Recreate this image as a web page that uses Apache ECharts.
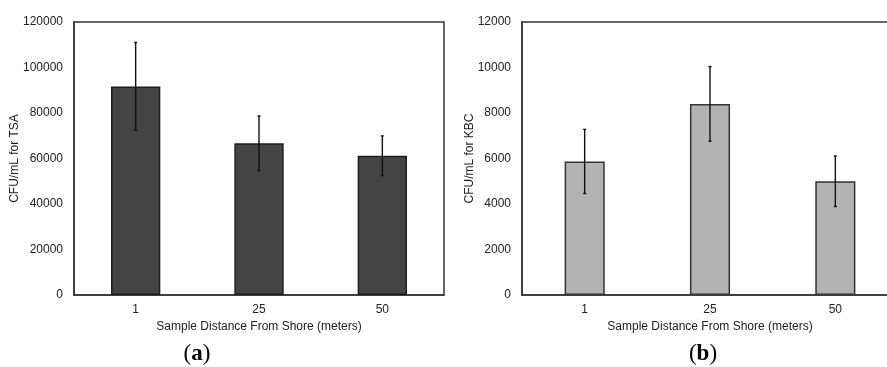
<!DOCTYPE html>
<html>
<head>
  <meta charset="utf-8">
  <title>CFU bars</title>
  <script src="https://cdn.jsdelivr.net/npm/echarts@6/dist/echarts.min.js"></script>
  <style>
    html, body { margin: 0; padding: 0; background: #fff; overflow: hidden; }
  </style>
</head>
<body>
<!-- a bit wider than the window: panel (b) runs off the right edge in the original -->
<div id="main" style="width: 905px;height:367px;"></div>
<script type="text/javascript">
  // data
  var categories = ['1', '25', '50'];
  var tsaMeans = [91700, 66700, 61200];
  var tsaErr = [19300, 12000, 8700];
  var kbcMeans = [5870, 8400, 5000];
  var kbcErr = [1410, 1640, 1110];
  var tsaTicks = [0, 120000, 20000];
  var kbcTicks = [0, 12000, 2000];

  var font = '"Liberation Sans", Arial, sans-serif';
  var txt = '#222';

  function errData(means, errs) {
    return means.map(function (m, i) { return [i, m - errs[i], m + errs[i]]; });
  }

  function errRender(params, api) {
    var x = api.value(0);
    var lo = api.coord([x, api.value(1)]);
    var hi = api.coord([x, api.value(2)]);
    var cap = 1.5;
    var st = { stroke: '#111', lineWidth: 1.4 };
    return {
      type: 'group',
      children: [
        { type: 'line', shape: { x1: hi[0], y1: hi[1], x2: lo[0], y2: lo[1] }, style: st },
        { type: 'line', shape: { x1: hi[0] - cap, y1: hi[1], x2: hi[0] + cap, y2: hi[1] }, style: st },
        { type: 'line', shape: { x1: lo[0] - cap, y1: lo[1], x2: lo[0] + cap, y2: lo[1] }, style: st }
      ]
    };
  }

  function xAx(idx) {
    return {
      type: 'category', gridIndex: idx, data: categories,
      axisLine: { lineStyle: { color: '#333', width: 1.5 } },
      axisTick: { show: false },
      axisLabel: { color: txt, fontSize: 12, fontFamily: font, margin: 9 },
      name: 'Sample Distance From Shore (meters)',
      nameLocation: 'middle', nameGap: 24,
      nameTextStyle: { color: txt, fontSize: 12, fontFamily: font }
    };
  }

  function yAx(idx, ticks, name, gap) {
    return {
      type: 'value', gridIndex: idx, min: ticks[0], max: ticks[1], interval: ticks[2],
      axisLine: { show: true, lineStyle: { color: '#333', width: 1.5 } },
      axisTick: { show: false },
      splitLine: { show: false },
      axisLabel: {
        color: txt, fontSize: 12, fontFamily: font, margin: 11,
        formatter: function (v) { return String(v); }
      },
      name: name, nameLocation: 'middle', nameGap: gap, nameRotate: 90,
      nameMoveOverlap: false,
      nameTextStyle: { color: txt, fontSize: 12, fontFamily: font }
    };
  }

  function panelTag(x, letter) {
    var serif = '"Liberation Serif", "Times New Roman", serif';
    return {
      type: 'text', x: x, y: 354,
      style: {
        text: '{p|(}{b|' + letter + '}{p|)}', align: 'center', verticalAlign: 'middle',
        rich: {
          p: { fontFamily: serif, fontSize: 23, fill: '#000' },
          b: { fontFamily: serif, fontSize: 23, fontWeight: 'bold', fill: '#000' }
        }
      }
    };
  }

  var chart = echarts.init(document.getElementById('main'));
  var option = {
    animation: false,
    backgroundColor: '#fff',
    grid: [
      { left: 74, top: 22, width: 370, height: 273, show: true, borderColor: '#333', borderWidth: 1.5, backgroundColor: 'transparent' },
      { left: 522, top: 22, width: 376, height: 273, show: true, borderColor: '#333', borderWidth: 1.5, backgroundColor: 'transparent' }
    ],
    xAxis: [xAx(0), xAx(1)],
    yAxis: [yAx(0, tsaTicks, 'CFU/mL for TSA', 53), yAx(1, kbcTicks, 'CFU/mL for KBC', 46)],
    series: [
      {
        type: 'bar', xAxisIndex: 0, yAxisIndex: 0, data: tsaMeans, barWidth: '40%',
        itemStyle: { color: '#444444', borderColor: '#1e1e1e', borderWidth: 1.5 }
      },
      {
        type: 'custom', xAxisIndex: 0, yAxisIndex: 0, data: errData(tsaMeans, tsaErr),
        renderItem: errRender, z: 5
      },
      {
        type: 'bar', xAxisIndex: 1, yAxisIndex: 1, data: kbcMeans, barWidth: '32%',
        itemStyle: { color: '#b3b3b3', borderColor: '#333', borderWidth: 1.5 }
      },
      {
        type: 'custom', xAxisIndex: 1, yAxisIndex: 1, data: errData(kbcMeans, kbcErr),
        renderItem: errRender, z: 5
      }
    ],
    graphic: [panelTag(197, 'a'), panelTag(703, 'b')]
  };

  option && chart.setOption(option);
</script>
</body>
</html>
